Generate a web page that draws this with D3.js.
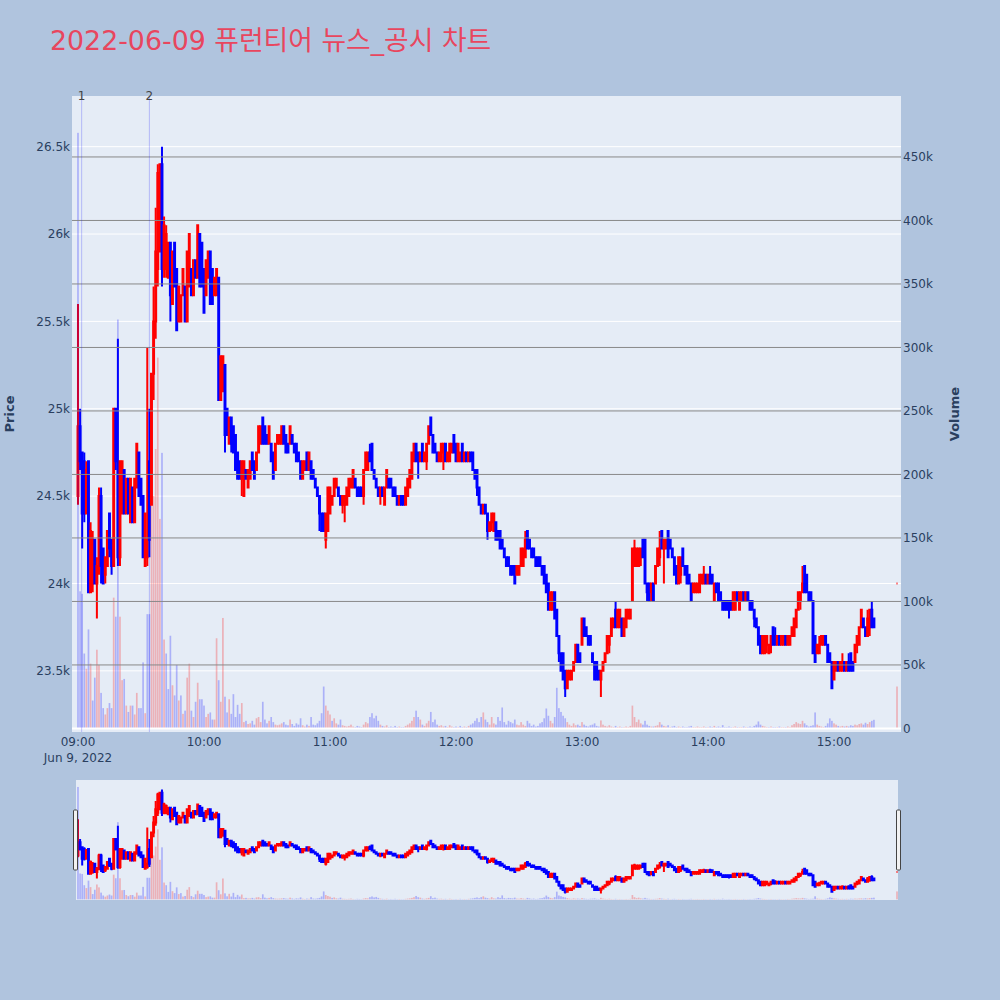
<!DOCTYPE html>
<html><head><meta charset="utf-8">
<script src="https://cdn.jsdelivr.net/npm/d3@7"></script>
<style>
body{margin:0;background:#B0C4DE;}
svg{display:block;font-family:Verdana,"DejaVu Sans","Noto Sans CJK KR",sans-serif;}
</style>
</head><body>
<svg id="chart" width="1000" height="1000"></svg>
<script>
// ---------------- DATA ----------------
const chartTitle = "2022-06-09 퓨런티어 뉴스_공시 차트";
const tradeDate = "2022-06-09";
const sessionOpen = "09:00";      // first 1-minute candle
const sessionLength = 380;        // continuous 1-minute candles 09:00..15:19
const auctionTime = "15:30";      // closing auction candle (last entry of each array)
const prevDayClose = 25000;

const opens = [
24500,24900,24750,24700,24400,24700,23950,24000,24250,24000,
24100,24500,24200,24050,24100,24400,24250,24100,25000,24700,
24150,24400,24650,24400,24600,24350,24550,24350,24550,24750,
24600,24500,24100,24150,24700,24450,25200,25500,25800,25900,
26400,25800,25800,25750,25950,25600,25950,25800,25500,25500,
25650,25700,25500,25700,25800,25650,25850,25750,26000,25950,
25800,25650,25750,25900,25800,25650,25650,25750,25050,25100,
25250,25000,24800,24950,24900,24850,24750,24700,24600,24500,
24650,24550,24600,24750,24700,24650,24750,24800,24950,24900,
24850,24800,24800,24750,24650,24800,24800,24800,24900,24850,
24800,24800,24850,24800,24800,24750,24700,24600,24650,24750,
24650,24700,24650,24600,24550,24500,24400,24400,24250,24300,
24400,24450,24500,24550,24550,24500,24450,24450,24450,24500,
24550,24550,24600,24550,24550,24550,24500,24650,24650,24750,
24800,24650,24600,24550,24500,24550,24450,24550,24600,24600,
24550,24550,24500,24450,24500,24500,24450,24500,24550,24600,
24700,24800,24750,24700,24800,24700,24700,24800,24950,24850,
24800,24750,24700,24700,24750,24800,24700,24700,24750,24850,
24800,24700,24700,24800,24700,24750,24700,24750,24750,24650,
24650,24550,24450,24400,24450,24400,24300,24350,24300,24350,
24300,24300,24250,24200,24150,24150,24100,24100,24100,24050,
24050,24100,24100,24150,24300,24250,24200,24200,24150,24150,
24150,24100,24100,24050,24000,23850,23850,23950,23850,23700,
23600,23600,23500,23400,23450,23450,23500,23550,23650,23600,
23650,23800,23750,23700,23700,23600,23550,23550,23500,23450,
23500,23550,23600,23650,23700,23750,23850,23750,23750,23800,
23700,23750,23800,23800,23900,24100,24100,24100,24150,24250,
24250,24000,24000,23950,24000,24000,24100,24150,24300,24200,
24200,24300,24250,24200,24150,24100,24000,24050,24200,24100,
24100,24050,24000,23950,23950,23950,23950,24000,24000,24050,
24000,24050,24050,23900,24000,24000,23950,23900,23900,23900,
23900,23900,23850,23850,23950,23850,23900,23950,23900,23950,
23900,23900,23850,23800,23750,23700,23600,23600,23650,23600,
23650,23750,23700,23650,23700,23650,23650,23700,23650,23650,
23700,23700,23750,23850,23900,23950,24100,24050,23950,23950,
23900,23700,23600,23600,23650,23650,23700,23650,23600,23550,
23450,23500,23550,23500,23500,23550,23500,23550,23600,23550,
23550,23650,23650,23750,23800,23750,23700,23750,23850,23800,
24000];

const highs = [
25600,25000,24750,24750,24700,24700,24350,24300,24250,24150,
24550,24550,24200,24150,24300,24400,24250,25000,25000,25400,
24700,24700,24650,24600,24600,24600,24550,24600,24800,24750,
24600,24500,24400,25350,25000,25200,25700,26150,26400,26400,
26500,26100,26050,25950,25950,25900,25950,25800,25700,25650,
25800,25700,25900,26000,25800,25850,25850,26050,26000,25950,
25800,25850,25900,25900,25800,25750,25800,25750,25300,25300,
25250,25000,24950,24950,24900,24850,24750,24700,24700,24700,
24650,24650,24700,24750,24700,24750,24900,24900,24950,24900,
24850,24900,24800,24750,24800,24850,24850,24900,24900,24850,
24800,24900,24850,24800,24800,24750,24700,24700,24700,24750,
24750,24700,24650,24600,24550,24500,24400,24400,24400,24550,
24550,24500,24600,24600,24550,24500,24500,24500,24550,24600,
24600,24650,24600,24550,24550,24550,24650,24750,24750,24800,
24800,24650,24600,24550,24550,24550,24550,24650,24600,24600,
24550,24550,24500,24500,24500,24500,24550,24600,24650,24750,
24800,24800,24750,24750,24800,24750,24800,24900,24950,24850,
24800,24750,24750,24800,24800,24800,24750,24800,24800,24850,
24800,24800,24750,24800,24750,24750,24750,24750,24750,24650,
24650,24550,24450,24450,24450,24400,24350,24400,24400,24350,
24300,24300,24250,24200,24150,24150,24100,24100,24100,24100,
24100,24200,24200,24300,24300,24250,24200,24200,24150,24150,
24150,24100,24100,24050,24000,23950,23950,23950,23850,23700,
23600,23600,23500,23500,23500,23500,23550,23650,23650,23600,
23800,23800,23750,23700,23700,23600,23550,23550,23500,23500,
23550,23600,23700,23700,23800,23800,23900,23850,23850,23800,
23800,23850,23850,23850,24200,24250,24200,24200,24200,24250,
24250,24000,24000,24000,24000,24100,24200,24300,24300,24250,
24250,24300,24250,24200,24150,24100,24150,24150,24200,24100,
24100,24050,24000,24000,24000,24000,24050,24050,24100,24050,
24050,24100,24050,24000,24000,24000,23950,23900,23900,23900,
23900,23900,23950,23950,23950,23950,23950,23950,23950,23950,
23900,23900,23850,23800,23750,23700,23700,23700,23700,23650,
23700,23750,23750,23700,23700,23700,23700,23700,23700,23700,
23750,23800,23850,23950,23950,24100,24100,24050,23950,23950,
23900,23700,23650,23700,23700,23700,23700,23650,23600,23550,
23550,23550,23550,23550,23600,23550,23550,23600,23600,23550,
23650,23700,23750,23850,23800,23750,23850,23850,23900,23800,
24000];

const lows = [
24450,24650,24200,24350,24400,23950,23950,23950,24000,23800,
24050,24000,24000,24000,24100,24150,24050,24100,24650,24100,
24100,24400,24400,24400,24400,24350,24350,24350,24550,24500,
24450,24150,24100,24100,24150,24450,25050,25400,25700,25900,
25700,25750,25750,25750,25500,25600,25700,25450,25500,25500,
25650,25500,25500,25700,25650,25650,25750,25750,25700,25700,
25550,25650,25750,25600,25600,25650,25650,25050,25050,25100,
24750,24850,24800,24750,24750,24650,24600,24600,24500,24500,
24600,24550,24600,24650,24600,24650,24750,24800,24800,24800,
24800,24800,24700,24600,24650,24800,24800,24800,24800,24750,
24750,24800,24800,24750,24700,24700,24600,24600,24650,24650,
24650,24600,24600,24550,24500,24300,24300,24300,24200,24300,
24400,24450,24500,24550,24500,24450,24400,24350,24450,24500,
24550,24550,24550,24500,24500,24500,24450,24650,24650,24700,
24650,24600,24550,24500,24450,24500,24450,24550,24550,24550,
24500,24500,24450,24450,24450,24450,24450,24500,24550,24600,
24700,24700,24600,24700,24700,24700,24650,24800,24850,24750,
24750,24700,24700,24700,24650,24700,24700,24700,24750,24750,
24700,24700,24700,24700,24700,24700,24700,24700,24650,24600,
24500,24450,24400,24400,24400,24250,24300,24300,24300,24250,
24250,24200,24200,24150,24100,24100,24050,24050,24000,24050,
24050,24100,24100,24150,24200,24200,24150,24150,24100,24100,
24100,24050,24000,23950,23850,23850,23850,23800,23700,23550,
23500,23450,23350,23400,23450,23450,23500,23550,23550,23550,
23650,23700,23700,23650,23650,23550,23450,23450,23450,23350,
23500,23550,23600,23600,23700,23750,23750,23750,23750,23700,
23700,23750,23800,23800,23900,24100,24100,24100,24100,24150,
24000,23900,23900,23900,23900,24000,24100,24100,24200,24000,
24200,24150,24200,24150,24050,24000,24000,24000,24100,24050,
24000,24000,23900,23950,23950,23950,23950,24000,24000,24000,
24000,24000,24000,23900,23950,23900,23900,23850,23850,23850,
23800,23850,23850,23850,23900,23850,23900,23900,23900,23900,
23850,23850,23750,23750,23650,23600,23600,23600,23600,23600,
23600,23650,23650,23650,23650,23650,23650,23650,23650,23650,
23700,23700,23750,23850,23850,23950,23950,23950,23900,23900,
23600,23550,23600,23600,23650,23650,23650,23550,23550,23400,
23450,23500,23500,23500,23500,23500,23500,23500,23500,23500,
23550,23600,23650,23750,23750,23700,23700,23700,23750,23750,
24000];

const closes = [
24900,24700,24400,24400,24650,23950,24300,24250,24000,24100,
24500,24100,24000,24150,24300,24200,24100,25000,24700,24150,
24700,24700,24400,24600,24400,24600,24350,24600,24800,24500,
24450,24150,24400,24250,24250,25200,25500,25900,26350,26400,
25800,26050,26000,25950,25650,25900,25700,25450,25700,25650,
25800,25500,25900,26000,25650,25850,25750,26050,25700,25700,
25550,25850,25900,25600,25600,25750,25800,25050,25300,25300,
24850,24850,24950,24800,24750,24650,24600,24600,24700,24700,
24600,24650,24700,24650,24600,24750,24900,24900,24800,24800,
24800,24900,24700,24600,24800,24850,24850,24900,24800,24750,
24750,24900,24800,24750,24700,24700,24600,24700,24700,24650,
24750,24600,24600,24550,24500,24400,24300,24300,24400,24550,
24550,24500,24600,24600,24500,24450,24500,24500,24550,24600,
24600,24650,24550,24500,24500,24500,24650,24750,24750,24700,
24650,24600,24550,24500,24550,24500,24550,24650,24550,24550,
24500,24500,24450,24500,24450,24450,24550,24600,24650,24750,
24800,24700,24700,24750,24700,24750,24800,24900,24850,24750,
24750,24700,24750,24800,24800,24700,24750,24800,24800,24750,
24700,24800,24750,24700,24750,24700,24750,24700,24650,24600,
24550,24450,24400,24450,24400,24300,24350,24400,24400,24250,
24250,24200,24200,24150,24100,24100,24050,24050,24000,24100,
24100,24200,24200,24250,24200,24200,24150,24150,24100,24100,
24100,24050,24000,23950,23850,23950,23950,23800,23700,23600,
23500,23450,23400,23500,23500,23500,23550,23650,23550,23550,
23800,23700,23700,23650,23650,23550,23450,23450,23450,23500,
23550,23600,23700,23700,23800,23800,23750,23850,23850,23700,
23800,23850,23850,23850,24200,24200,24200,24200,24200,24150,
24000,23950,23900,24000,23900,24100,24200,24200,24200,24250,
24250,24150,24200,24150,24050,24000,24150,24150,24100,24050,
24000,24000,23900,24000,24000,24000,24050,24050,24050,24000,
24050,24000,24000,24000,23950,23900,23900,23850,23850,23850,
23850,23850,23950,23950,23900,23950,23950,23900,23950,23900,
23850,23850,23800,23750,23650,23600,23700,23700,23700,23650,
23700,23650,23650,23700,23650,23700,23700,23650,23700,23700,
23750,23800,23850,23950,23950,24000,23950,23950,23900,23900,
23600,23550,23650,23650,23700,23700,23650,23550,23550,23400,
23550,23550,23500,23550,23550,23500,23550,23500,23500,23500,
23650,23700,23750,23850,23750,23700,23800,23850,23750,23750,
24000];

const volumes = [
469000,108000,106000,59000,47000,78000,51000,22000,40000,62000,
50000,28000,16000,11000,16000,20000,16000,103000,88000,322000,
88000,38000,39000,18000,13000,18000,18000,11000,28000,16000,
16000,52000,12000,90000,90000,275000,183000,220000,292000,165000,
217000,70000,59000,31000,73000,34000,26000,50000,22000,26000,
11500,14000,40000,51000,14000,9000,21000,36000,23000,23000,
18000,9000,11500,12600,7000,7000,71000,38000,21000,87000,
25000,12600,23000,11500,27000,9000,18600,11500,20000,5000,
6000,3500,4000,6000,3000,8000,9000,5000,21000,7000,
4000,6000,9000,5000,3000,2500,3000,4000,5000,3000,
2500,7000,3500,2000,4000,3000,8000,2500,1500,3000,
2000,9000,3000,2500,4000,6000,12000,33000,18000,14000,
11000,6000,8000,4000,3000,7000,2500,2000,1500,2000,
3000,1500,1000,2000,1500,1000,3000,5000,4000,9000,
12000,8000,10000,6000,3000,2000,1500,2500,1000,1500,
1000,2000,1000,1500,1000,1000,2000,3000,4000,6000,
9000,14000,9000,7000,3000,2000,4000,6000,13000,5000,
7000,3000,2000,2500,1500,2000,1000,2500,1500,1000,
1500,1000,2000,1000,1500,1000,2000,3000,4000,6000,
8000,5000,9000,12600,7000,5000,3000,9000,4000,3000,
9000,6000,16500,5000,3000,6000,5000,4000,7000,3000,
2500,5000,3000,2000,6000,4000,2000,3000,1500,2000,
4000,5000,8000,15700,10000,6000,4000,9000,32000,16000,
13000,10000,8000,5000,3000,2000,4000,2500,3000,2000,
5000,3000,2000,1500,2500,3000,4000,2000,1500,6300,
3000,2000,1500,2500,1500,1000,2000,1000,1500,1000,
1000,1500,1000,2000,18000,9000,5000,7000,4000,3000,
6000,3000,2000,1500,1500,2000,2500,5000,3000,2000,
1500,2500,1000,1500,2000,1000,1500,1000,1500,1000,
1000,1500,2000,1000,1000,1500,1000,1000,1500,1000,
1000,1500,1000,2000,1000,1500,1000,2600,1000,1000,
1500,1000,1000,1500,1000,1000,1000,1500,1000,1000,
1500,1000,2000,3000,5500,3000,2000,1500,1000,1000,
1500,1000,1000,1000,1500,1000,1000,1000,1500,1000,
2500,3500,5000,4000,3500,6000,4000,2500,1500,2000,
2500,12600,3000,2000,1500,1000,2000,4000,7900,6000,
4000,3000,2000,1500,2000,1500,2000,1500,2500,2000,
3000,2500,3500,4000,3000,4500,3500,5000,6000,6800,
33000];

const newsTimes = ["09:01:45", "09:34:00"];
const newsLabels = ["1", "2"];

const priceTicks = [23500, 24000, 24500, 25000, 25500, 26000, 26500];
const volumeTicks = [0, 50000, 100000, 150000, 200000, 250000, 300000, 350000, 400000, 450000];
const timeTicks = ["09:00", "10:00", "11:00", "12:00", "13:00", "14:00", "15:00"];
const dateTickLabel = "Jun 9, 2022";

const xRange = ["08:57:09", "15:31:54"];
const priceRange = [23150, 26790];
const volumeRange = [-2800, 498000];

// ---------------- LAYOUT ----------------
const svg = d3.select("#chart");
const P = {l: 72, r: 901, t: 96, b: 732};
const S = {l: 76, r: 898, t: 780, b: 900};
const UP = "#FF0000", DOWN = "#0000FF";
const VUP = "rgba(255,0,0,0.25)", VDOWN = "rgba(0,0,255,0.25)";
const tickColor = "#2a3f5f";

const parseT = s => {
  const f = s.length > 5 ? "%Y-%m-%d %H:%M:%S" : "%Y-%m-%d %H:%M";
  return d3.timeParse(f)(tradeDate + " " + s);
};
const times = d3.range(sessionLength).map(i => d3.timeMinute.offset(parseT(sessionOpen), i))
  .concat([parseT(auctionTime)]);

const data = times.map((t, i) => ({t, o: opens[i], h: highs[i], l: lows[i], c: closes[i], v: volumes[i]}));
let prevDir = 1;
data.forEach((d, i) => {
  const pc = i === 0 ? prevDayClose : data[i - 1].c;
  let dir = d.c > d.o ? 1 : d.c < d.o ? -1 : (d.c > pc ? 1 : d.c < pc ? -1 : prevDir);
  d.dir = dir; prevDir = dir;
  d.vdir = d.c > pc ? 1 : d.c < pc ? -1 : dir;
});

const x = d3.scaleTime().domain(xRange.map(parseT)).range([P.l, P.r]);
const y = d3.scaleLinear().domain(priceRange).range([P.b, P.t]);
const yv = d3.scaleLinear().domain(volumeRange).range([P.b, P.t]);
const ys = d3.scaleLinear().domain(priceRange).range([S.b, S.t]);
const yvs = d3.scaleLinear().domain(volumeRange).range([S.b, S.t]);

const pxPerMin = x(d3.timeMinute.offset(parseT(sessionOpen), 1)) - x(parseT(sessionOpen));
const boxW = pxPerMin * 0.45;
const barW = pxPerMin * 0.8;

const defs = svg.append("defs");
defs.append("clipPath").attr("id", "clipMain").append("rect")
  .attr("x", P.l).attr("y", P.t).attr("width", P.r - P.l).attr("height", P.b - P.t);
defs.append("clipPath").attr("id", "clipSlider").append("rect")
  .attr("x", S.l).attr("y", S.t).attr("width", S.r - S.l).attr("height", S.b - S.t);

// title
svg.append("text").attr("x", 50).attr("y", 50).text(chartTitle)
  .attr("fill", "#E8465E").attr("font-size", 26.8);

// plot background
svg.append("rect").attr("x", P.l).attr("y", P.t).attr("width", P.r - P.l).attr("height", P.b - P.t)
  .attr("fill", "#E5ECF6");

// price grid (white)
svg.append("g").selectAll("line").data(priceTicks).join("line")
  .attr("x1", P.l).attr("x2", P.r).attr("y1", d => y(d)).attr("y2", d => y(d))
  .attr("stroke", "#fff").attr("stroke-width", 1);

function candlePath(d, xs, yscale) {
  const xc = xs(d.t), top = yscale(Math.max(d.o, d.c)), bot = yscale(Math.min(d.o, d.c));
  const hw = boxW / 2;
  return `M${xc},${yscale(d.h)}V${top}M${xc - hw},${top}H${xc + hw}V${bot}H${xc - hw}ZM${xc},${bot}V${yscale(d.l)}`;
}
function drawCandles(g, yscale) {
  g.selectAll("path").data(data).join("path")
    .attr("d", d => candlePath(d, x, yscale))
    .attr("stroke", d => d.dir > 0 ? UP : DOWN)
    .attr("fill", d => d.dir > 0 ? UP : DOWN)
    .attr("stroke-width", 2);
}
function drawVolumes(g, yscale) {
  g.selectAll("rect").data(data).join("rect")
    .attr("x", d => x(d.t) - barW / 2).attr("width", barW)
    .attr("y", d => yscale(d.v)).attr("height", d => yscale(0) - yscale(d.v))
    .attr("fill", d => d.vdir > 0 ? VUP : VDOWN);
}

const gMain = svg.append("g").attr("clip-path", "url(#clipMain)");
drawCandles(gMain.append("g"), y);

// volume grid (gray) + zero line
svg.append("g").selectAll("line").data(volumeTicks.filter(v => v !== 0)).join("line")
  .attr("x1", P.l).attr("x2", P.r).attr("y1", d => yv(d)).attr("y2", d => yv(d))
  .attr("stroke", "#888").attr("stroke-width", 1);
svg.append("line").attr("x1", P.l).attr("x2", P.r).attr("y1", yv(0)).attr("y2", yv(0))
  .attr("stroke", "#fff").attr("stroke-width", 2);

drawVolumes(gMain.append("g"), yv);

// news lines
const gNews = svg.append("g");
newsTimes.forEach((t, i) => {
  const xx = x(parseT(t));
  gNews.append("line").attr("x1", xx).attr("x2", xx).attr("y1", P.t).attr("y2", P.b)
    .attr("stroke", "rgba(0,0,255,0.22)").attr("stroke-width", 1);
  gNews.append("text").attr("x", xx).attr("y", P.t).attr("dy", "0.35em")
    .attr("text-anchor", "middle").attr("font-size", 12).attr("fill", "#444").text(newsLabels[i]);
});

// axes text
const fmtK = d3.format("~s");
svg.append("g").selectAll("text").data(priceTicks).join("text")
  .attr("x", 70).attr("y", d => y(d)).attr("dy", "0.35em").attr("text-anchor", "end")
  .attr("font-size", 12).attr("fill", tickColor).text(d => fmtK(d));
svg.append("g").selectAll("text").data(volumeTicks).join("text")
  .attr("x", 903).attr("y", d => yv(d)).attr("dy", "0.35em").attr("text-anchor", "start")
  .attr("font-size", 12).attr("fill", tickColor).text(d => d === 0 ? "0" : fmtK(d));
svg.append("g").selectAll("text").data(timeTicks).join("text")
  .attr("x", d => x(parseT(d))).attr("y", 746).attr("text-anchor", "middle")
  .attr("font-size", 12).attr("fill", tickColor).text(d => d);
svg.append("text").attr("x", x(parseT(timeTicks[0]))).attr("y", 762).attr("text-anchor", "middle")
  .attr("font-size", 12).attr("fill", tickColor).text(dateTickLabel);

svg.append("text").attr("transform", `translate(14,${(P.t + P.b) / 2}) rotate(-90)`)
  .attr("text-anchor", "middle").attr("font-size", 13).attr("font-weight", "bold")
  .attr("fill", tickColor).text("Price");
svg.append("text").attr("transform", `translate(959,${(P.t + P.b) / 2}) rotate(-90)`)
  .attr("text-anchor", "middle").attr("font-size", 13).attr("font-weight", "bold")
  .attr("fill", tickColor).text("Volume");

// range slider
svg.append("rect").attr("x", S.l).attr("y", S.t).attr("width", S.r - S.l).attr("height", S.b - S.t)
  .attr("fill", "#E5ECF6");
const gS = svg.append("g").attr("clip-path", "url(#clipSlider)");
drawCandles(gS.append("g"), ys);
drawVolumes(gS.append("g"), yvs);
[S.l - 2.5, S.r - 1.5].forEach(hx => {
  svg.append("rect").attr("x", hx).attr("y", 810).attr("width", 4).attr("height", 60)
    .attr("fill", "#f2f2f2").attr("stroke", "#444").attr("stroke-width", 1).attr("rx", 1);
});
</script>
</body></html>
